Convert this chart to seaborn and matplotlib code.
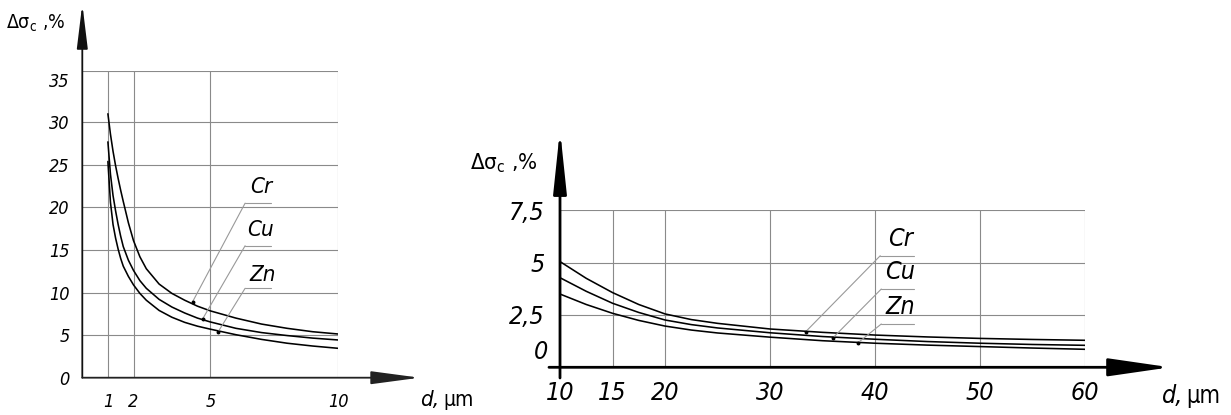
import numpy as np
import pandas as pd
import matplotlib
matplotlib.use("Agg")
import matplotlib.pyplot as plt
import matplotlib.transforms as mtransforms
import seaborn as sns

# data
metals = ["Cr", "Cu", "Zn"]

d_small = [1.0, 1.1, 1.2, 1.3, 1.4, 1.5, 1.6, 1.8, 2.0, 2.25, 2.5, 3.0, 3.5, 4.0, 4.5, 5.0, 6.0, 7.0, 8.0, 9.0, 10.0]
cr_small = [31.0, 28.6, 26.6, 24.9, 23.4, 22.0, 20.7, 18.2, 16.1, 14.2, 12.8, 11.0, 9.9, 9.1, 8.4, 7.85, 7.0, 6.3, 5.8, 5.4, 5.13]
cu_small = [27.7, 23.9, 21.4, 19.6, 18.0, 16.6, 15.4, 13.8, 12.6, 11.4, 10.5, 9.2, 8.3, 7.6, 7.0, 6.55, 5.8, 5.3, 4.95, 4.65, 4.43]
zn_small = [25.4, 20.6, 18.0, 16.4, 15.1, 14.0, 13.1, 11.9, 10.9, 9.9, 9.1, 7.9, 7.1, 6.5, 6.05, 5.7, 5.05, 4.5, 4.05, 3.72, 3.45]

d_large = [10, 12.5, 15, 17.5, 20, 22.5, 25, 30, 35, 40, 45, 50, 55, 60]
cr_large = [5.05, 4.25, 3.57, 3.0, 2.55, 2.28, 2.1, 1.83, 1.67, 1.54, 1.45, 1.38, 1.33, 1.29]
cu_large = [4.28, 3.63, 3.06, 2.62, 2.26, 2.04, 1.88, 1.65, 1.47, 1.34, 1.23, 1.15, 1.09, 1.05]
zn_large = [3.5, 3.0, 2.58, 2.24, 1.97, 1.78, 1.64, 1.44, 1.27, 1.15, 1.06, 0.99, 0.92, 0.86]

xticks_small = [1, 2, 5, 10]
yticks_small = [0, 5, 10, 15, 20, 25, 30, 35]
xticks_large = [10, 15, 20, 30, 40, 50, 60]
yticks_large = [2.5, 5, 7.5]
ylabels_large = ["2,5", "5", "7,5"]

# label positions: text (x, y), underline (x0, x1, y), leader end on curve (x, y)
tags_small = {"Cr": ((6.98, 22.4), (6.36, 7.36, 20.5), (4.31, 8.93)),
              "Cu": ((6.98, 17.4), (6.36, 7.36, 15.5), (4.70, 6.9)),
              "Zn": ((7.04, 12.1), (6.36, 7.36, 10.5), (5.31, 5.41))}
tags_large = {"Cr": ((42.4, 6.15), (40.5, 43.7, 5.33), (33.4, 1.70)),
              "Cu": ((42.4, 4.53), (40.6, 43.7, 3.74), (36.0, 1.41)),
              "Zn": ((42.4, 2.86), (40.6, 43.7, 2.07), (38.4, 1.18))}

sns.set_style("white")
plt.rcParams["font.family"] = ["DejaVu Sans"]
plt.rcParams["font.stretch"] = "condensed"
plt.rcParams["mathtext.default"] = "regular"
plt.rcParams["text.color"] = "black"
plt.rcParams["xtick.color"] = "black"
plt.rcParams["ytick.color"] = "black"

W, H = 1231, 415
fig = plt.figure(figsize=(W / 100, H / 100), dpi=100)


def px_axes(x0, x1, ytop, ybot):
    return fig.add_axes([x0 / W, 1 - ybot / H, (x1 - x0) / W, (ybot - ytop) / H])


def to_long(d, cr, cu, zn):
    return pd.DataFrame({"d": d * 3, "val": cr + cu + zn,
                         "metal": [m for m in metals for _ in d]})


def draw_panel(ax, df, xlim, ylim, xticks, yticks, ylabels, tags, tsize, lsize):
    sns.lineplot(data=df, x="d", y="val", hue="metal", palette=["k"] * 3,
                 legend=False, ax=ax, lw=1.15, sort=False, errorbar=None)
    ax.set_xlim(*xlim)
    ax.set_ylim(*ylim)
    ax.set_xticks(xticks)
    ax.set_yticks(yticks)
    ax.set_yticklabels(ylabels)
    ax.set_xlabel("")
    ax.set_ylabel("")
    ax.grid(True, color="#8a8a8a", lw=0.8)
    ax.tick_params(length=0, labelsize=tsize, labelcolor="black")
    for lbl in ax.get_xticklabels() + ax.get_yticklabels():
        lbl.set_style("italic")
    for s in ax.spines.values():
        s.set_visible(False)
    for name, (txt, ul, end) in tags.items():
        ax.text(txt[0], txt[1], name, fontsize=lsize, style="italic",
                ha="center", va="center")
        ax.plot([ul[0], ul[1]], [ul[2], ul[2]], color="#999999", lw=0.8)
        ax.plot([ul[0], end[0]], [ul[2], end[1]], color="#999999", lw=0.8)
        ax.plot([end[0]], [end[1]], "o", color="k", ms=1.8)


def arrow(ax, start, tip, hl, hw, lw, color="k"):
    ax.annotate("", xy=tip, xytext=start, annotation_clip=False,
                arrowprops=dict(arrowstyle=f"-|>,head_length={hl},head_width={hw}",
                                mutation_scale=10, lw=lw, color=color,
                                shrinkA=0, shrinkB=0))


# left panel: d = 1..10 um
ax1 = px_axes(82.3, 338.3, 71.2, 377.7)
draw_panel(ax1, to_long(d_small, cr_small, cu_small, zn_small), (0, 10), (0, 36),
           xticks_small, yticks_small, [str(v) for v in yticks_small],
           tags_small, 13, 16)
ax1.yaxis.get_major_ticks()[-1].gridline.set_visible(False)
ax1.tick_params(axis="y", pad=9)
ax1.tick_params(axis="x", pad=11)
ax1.axhline(36, color="#8a8a8a", lw=0.8)
arrow(ax1, (0, 0), (0, 43.9), 2.7, 0.33, 1.3, "#111111")
arrow(ax1, (0, 0), (13.18, 0), 3.0, 0.4, 1.3, "#222222")
ax1.text(-0.3, 1.155, "Δσ$_{c}$ ,%", transform=ax1.transAxes, fontsize=14,
         ha="left", va="center")
ax1.text(13.2, -2.6, "d,", fontsize=16, style="italic", ha="left", va="center")
ax1.text(14.1, -2.6, "μm", fontsize=15, ha="left", va="center")

# right panel: d = 10..60 um
ax2 = px_axes(560, 1085, 210.3, 367.3)
draw_panel(ax2, to_long(d_large, cr_large, cu_large, zn_large), (10, 60), (0, 7.5),
           xticks_large, yticks_large, ylabels_large, tags_large, 18, 18)
ax2.tick_params(axis="y", pad=11)
ax2.tick_params(axis="x", pad=10)
trans = mtransforms.blended_transform_factory(ax2.transAxes, ax2.transData)
ax2.text(-0.022, 0.73, "0", transform=trans, fontsize=18, style="italic",
         ha="right", va="center")
arrow(ax2, (10, -0.51), (10, 11.36), 3.8, 0.4, 2.0)
arrow(ax2, (8.95, 0), (68.1, 0), 3.8, 0.55, 2.0)
ax2.text(-0.172, 1.3, "Δσ$_{c}$ ,%", transform=ax2.transAxes, fontsize=16,
         ha="left", va="center")
ax2.text(67.3, -1.35, "d,", fontsize=18, style="italic", ha="left", va="center")
ax2.text(69.6, -1.35, "μm", fontsize=17, ha="left", va="center")

fig.savefig("out.png", dpi=100)
